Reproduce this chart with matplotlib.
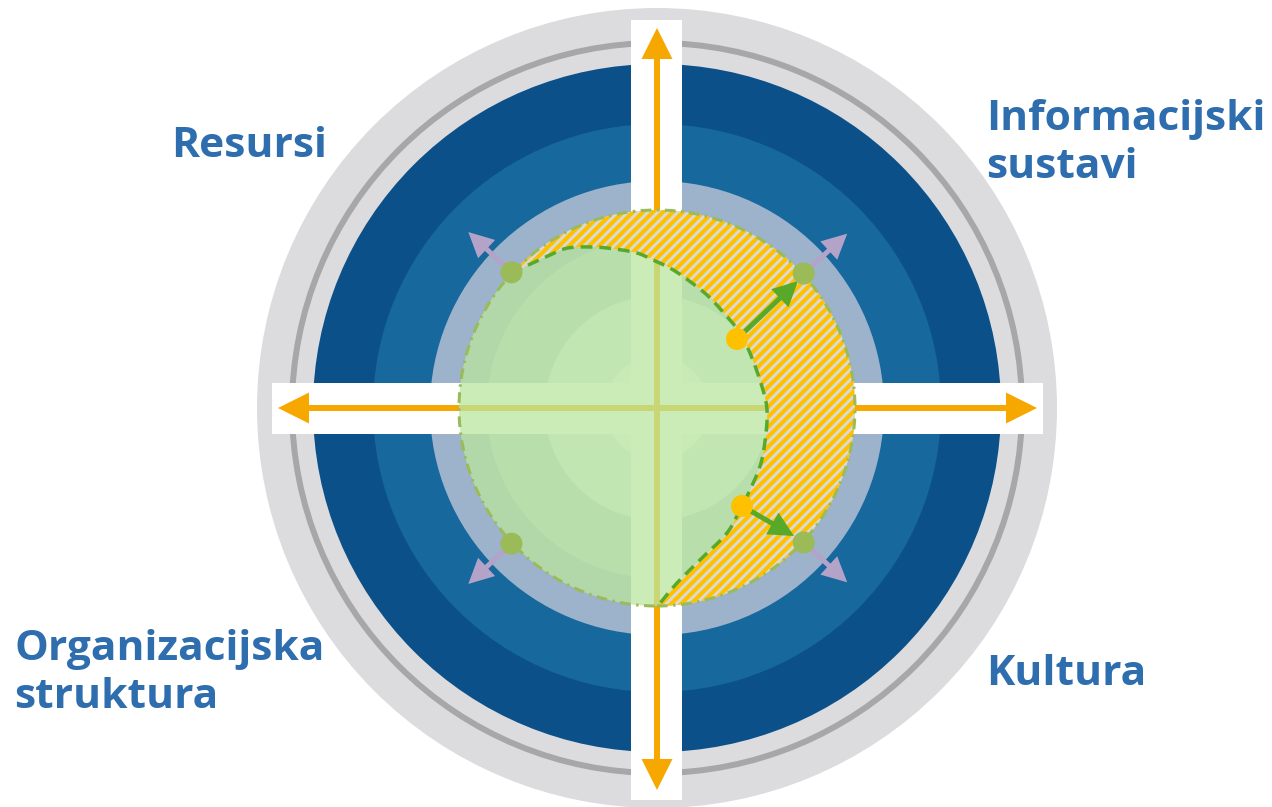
import numpy as np
import matplotlib
matplotlib.use('Agg')
import matplotlib.pyplot as plt
from matplotlib.patches import Circle, Polygon, Rectangle
from matplotlib.collections import LineCollection

# concentric discs, outermost first (radius in px, colour)
disc_radii = [400, 344, 284, 227]
disc_colors = ['#dcdcde', '#0b5089', '#16689d', '#9db2cb']
rim_radius = 365
# discs seen through the green core
inner_radii = [170, 112, 52]
inner_colors = ['#b4ccd2', '#dde9ee', '#f2f6fa']
core_radius = 198

# orange axis arrows: tip positions (up, down, left, right)
axis_tips = [(0, 380), (0, -382), (-379, 0), (380, 0)]

# boundary of the grown area (from upper-left dot round to the bottom)
blob_edge = [(-146, 135), (-107, 153), (-89, 160), (-64, 161), (-42, 159),
             (-20, 155), (-4, 148), (13, 140), (31, 128), (50, 113), (66, 96),
             (83, 75), (95, 50), (106, 18), (110, -2), (109, -25), (104, -55),
             (93, -82), (84, -100), (70, -125), (46, -149), (20, -175), (0, -199)]

dot_angles = [137, 42.5, -137, -42.5]
yellow_dots = [(80, 69), (85, -98)]
green_tips = [(141, 127), (137, -128)]

labels = [['Resursi'], ['Informacijski', 'sustavi'],
          ['Organizacijska', 'struktura'], ['Kultura']]
label_pos = [(-486, 251), (329, 278), (-643, -252), (329, -277)]

TEXT = '#2e6dae'
ORANGE = '#f6a800'


def smooth(pts, n=16):
    p = np.asarray(pts, float)
    p = np.vstack([p[0], p, p[-1]])
    out = []
    t = np.linspace(0, 1, n, endpoint=False)[:, None]
    for i in range(1, len(p) - 2):
        p0, p1, p2, p3 = p[i - 1], p[i], p[i + 1], p[i + 2]
        out.append(0.5 * (2 * p1 + (-p0 + p2) * t + (2 * p0 - 5 * p1 + 4 * p2 - p3) * t ** 2
                          + (-p0 + 3 * p1 - 3 * p2 + p3) * t ** 3))
    out.append(p[-2][None])
    return np.vstack(out)


fig = plt.figure(figsize=(12.72, 8.07), dpi=100)
ax = fig.add_axes([0, 0, 1, 1])
ax.set_xlim(-657, 615)
ax.set_ylim(-399, 408)
ax.axis('off')

ax.add_patch(Circle((0, 0), disc_radii[0], color=disc_colors[0], lw=0, zorder=1))
ax.add_patch(Circle((0, 0), rim_radius, fill=False, ec='#a7a7a9', lw=4.3, zorder=1))
for r, c in zip(disc_radii[1:], disc_colors[1:]):
    ax.add_patch(Circle((0, 0), r, color=c, lw=0, zorder=1))
for r, c in zip(inner_radii, inner_colors):
    ax.add_patch(Circle((0, 0), r, color=c, lw=0, zorder=1))

# white cross bars
ax.add_patch(Rectangle((-26, -392), 51, 780, color='white', lw=0, zorder=2))
ax.add_patch(Rectangle((-385, -26), 771, 51, color='white', lw=0, zorder=2))

for tx, ty in axis_tips:
    ax.arrow(0, 0, tx, ty, width=6, head_width=31, head_length=31,
             length_includes_head=True, color=ORANGE, lw=0, zorder=3)

# green core (semi transparent)
ax.add_patch(Circle((0, 0), core_radius, color='#bae69e', alpha=0.75, lw=0, zorder=4))

# hatched area
edge = smooth(blob_edge)
a0 = np.degrees(np.arctan2(blob_edge[0][1], blob_edge[0][0]))
ang = np.radians(np.linspace(a0, -90, 200))
arc = np.column_stack([core_radius * np.cos(ang), core_radius * np.sin(ang)])
region = np.vstack([arc, edge[::-1]])
hatch = Polygon(region, closed=True, fc='#d9d9d9', ec='none', zorder=5)
ax.add_patch(hatch)
offs = np.arange(-420, 420, 10)
segs = [[(c - 300, -300), (c + 300, 300)] for c in offs]
lc = LineCollection(segs, colors='#ffc000', linewidths=3.0, zorder=6)
lc.set_clip_path(hatch)
ax.add_collection(lc)

ax.add_patch(Circle((0, 0), core_radius, fill=False, ec='#9bbb59', lw=2.2,
                    ls=(0, (3.5, 1.8, 0.8, 1.8)), zorder=7))
ax.plot(edge[:, 0], edge[:, 1], color='#56a92a', lw=2.5, ls=(0, (3.4, 2)), zorder=8)

# purple arrows and green dots
for a in dot_angles:
    c, s = np.cos(np.radians(a)), np.sin(np.radians(a))
    ax.arrow(199 * c, 199 * s, 59 * c, 59 * s, width=5, head_width=25, head_length=25,
             length_includes_head=True, color='#b3a3c8', lw=0, zorder=9)

for (yx, yy), (gx, gy) in zip(yellow_dots, green_tips):
    ax.arrow(yx, yy, gx - yx, gy - yy, width=5, head_width=25, head_length=25,
             length_includes_head=True, color='#58a929', lw=0, zorder=9)

for a in dot_angles:
    ax.add_patch(Circle((199 * np.cos(np.radians(a)), 199 * np.sin(np.radians(a))), 11,
                        color='#9bbb59', lw=0, zorder=10))
for yx, yy in yellow_dots:
    ax.add_patch(Circle((yx, yy), 11, color='#ffc000', lw=0, zorder=10))

for lines, (x, y) in zip(labels, label_pos):
    for i, t in enumerate(lines):
        ax.text(x, y - 48 * i, t, color=TEXT, fontsize=30.6, fontweight='bold',
                family='Open Sans', ha='left', va='baseline', zorder=11)

fig.savefig('out.png', dpi=100)
